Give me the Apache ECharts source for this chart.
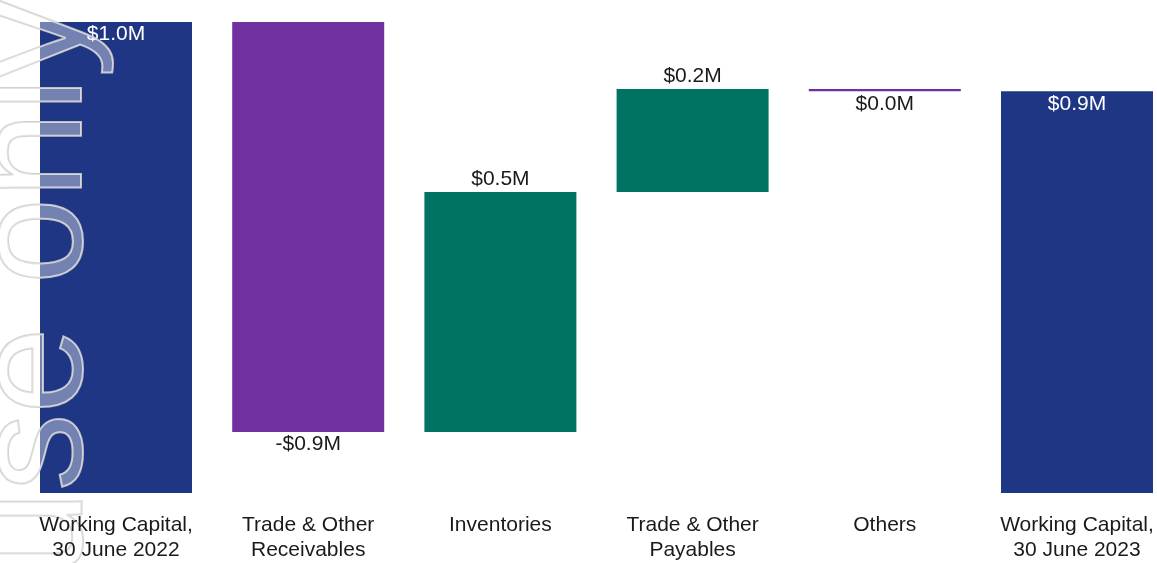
<!DOCTYPE html>
<html>
<head>
<meta charset="utf-8">
<script src="https://cdn.jsdelivr.net/npm/echarts@6/dist/echarts.min.js"></script>
<style>
  html, body { margin: 0; padding: 0; background: #ffffff; }
  #chart { width: 1157px; height: 563px; }
</style>
</head>
<body>
<div id="chart"></div>
<script>
// Working capital bridge, values in $M
const categories = [
  'Working Capital,\n30 June 2022',
  'Trade & Other\nReceivables',
  'Inventories',
  'Trade & Other\nPayables',
  'Others',
  'Working Capital,\n30 June 2023'
];
const openingBalance = [1.02];
const movements = [-0.888, 0.52, 0.223, -0.005];
const watermarkText = 'use only';

const COLORS = {
  total: '#1f3684',
  up: '#007362',
  down: '#7030a0',
  dark: '#1a1a1a'
};
const FONT = '"Liberation Sans", Arial, sans-serif';

function fmt(v) {
  const r = Math.round(v * 10) / 10;
  if (Math.abs(r) < 0.05) return '$0.0M';
  return (r < 0 ? '-$' : '$') + Math.abs(r).toFixed(1) + 'M';
}

// Running totals -> invisible base + visible segment
const baseData = [];
const barData = [];
let running = openingBalance[0];
baseData.push(0);
barData.push({
  value: running,
  itemStyle: { color: COLORS.total },
  label: { show: true, position: 'insideTop', distance: 2, color: '#ffffff', formatter: fmt(running) }
});
movements.forEach(function (d) {
  const next = running + d;
  baseData.push(Math.min(running, next));
  const up = d >= 0;
  barData.push({
    value: Math.abs(d),
    itemStyle: { color: up ? COLORS.up : COLORS.down },
    label: {
      show: true,
      position: up ? 'top' : 'bottom',
      distance: 2,
      color: COLORS.dark,
      formatter: fmt(d)
    }
  });
  running = next;
});
baseData.push(0);
barData.push({
  value: running,
  itemStyle: { color: COLORS.total },
  label: { show: true, position: 'insideTop', distance: 2, color: '#ffffff', formatter: fmt(running) }
});

const chart = echarts.init(document.getElementById('chart'), null, { renderer: 'canvas' });
chart.setOption({
  animation: false,
  backgroundColor: '#ffffff',
  textStyle: { fontFamily: FONT },
  // category centres sit on the grid edges (boundaryGap: false)
  grid: { left: 116, width: 961, top: 22, bottom: 70, containLabel: false },
  xAxis: {
    type: 'category',
    data: categories,
    boundaryGap: false,
    z: 120,
    axisLine: { show: false },
    axisTick: { show: false },
    splitLine: { show: false },
    axisLabel: {
      interval: 0,
      margin: 20,
      fontSize: 21,
      lineHeight: 25,
      color: COLORS.dark,
      fontFamily: FONT
    }
  },
  yAxis: {
    type: 'value',
    min: 0,
    max: openingBalance[0],
    show: false,
    splitLine: { show: false }
  },
  series: [
    {
      name: 'base',
      type: 'bar',
      stack: 'wf',
      barWidth: 152,
      clip: false,
      itemStyle: { color: 'transparent' },
      emphasis: { disabled: true },
      data: baseData
    },
    {
      name: 'value',
      type: 'bar',
      stack: 'wf',
      barWidth: 152,
      clip: false,
      label: { fontSize: 21, fontFamily: FONT },
      data: barData
    }
  ],
  graphic: [
    {
      type: 'text',
      x: 38,
      y: 0,
      rotation: Math.PI / 2,
      z: 100,
      silent: true,
      style: {
        text: watermarkText,
        font: '155px "Liberation Sans", Arial, sans-serif',
        align: 'right',
        verticalAlign: 'middle',
        fill: 'rgba(255,255,255,0.38)',
        stroke: 'rgba(205,205,205,0.9)',
        lineWidth: 2
      }
    }
  ]
});
</script>
</body>
</html>
